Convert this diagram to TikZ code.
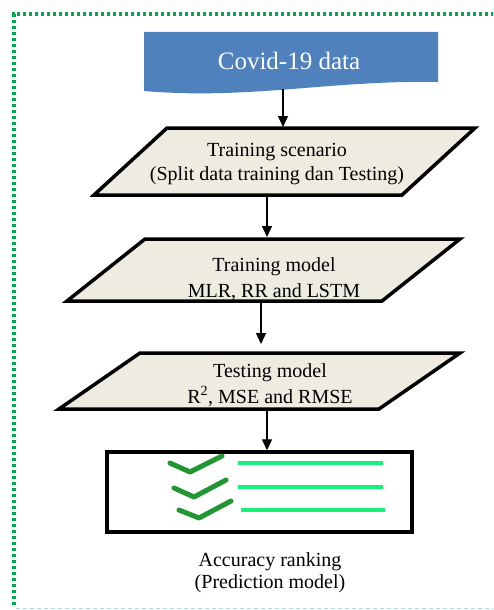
\documentclass[tikz,border=0pt]{standalone}
\usepackage{fontspec}
\setmainfont{Liberation Serif}
\usetikzlibrary{arrows.meta}
\definecolor{docblue}{RGB}{79,129,189}
\definecolor{beige}{RGB}{238,236,225}
\definecolor{framegreen}{RGB}{0,168,80}
\definecolor{tickgreen}{RGB}{34,150,50}
\definecolor{bargreen}{RGB}{25,240,120}
\definecolor{lightteal}{RGB}{170,222,210}
\begin{document}
\begin{tikzpicture}[x=1pt,y=-1pt,
  iobox/.style={draw=black,fill=beige,line width=3.5pt,line join=miter},
  lbl/.style={font=\fontsize{20}{25}\selectfont,align=center,anchor=base,inner sep=0pt},
  arr/.style={line width=1.4pt,-{Triangle[width=10pt,length=11pt]}},
  tickst/.style={draw=tickgreen,line width=5pt,line cap=round,line join=round},
  barst/.style={draw=bargreen,line width=4pt}]
\useasboundingbox[fill=white] (0,0) rectangle (493,610);
% frame
\draw[framegreen,line width=3.4pt,dash pattern=on 3.2pt off 2.8pt] (14,605) -- (14,14) -- (493,14);
\draw[lightteal,line width=0.9pt,dash pattern=on 4pt off 3pt] (16,608) -- (493,608);
% document shape
\fill[docblue] (144,32) -- (438,32) -- (438,82) .. controls (330,80) and (250,100) .. (144,91) -- cycle;
\node[font=\fontsize{25}{28}\selectfont,text=white,anchor=base,inner sep=0pt] (doc) at (289,70) {Covid-19 data};
\coordinate (docb) at (283,89);
% parallelograms
\draw[iobox] (167,128) -- (475,128) -- (402,195) -- (94,195) -- cycle;
\draw[iobox] (145,239) -- (460,239) -- (382,301) -- (67,301) -- cycle;
\draw[iobox] (140,353) -- (460,353) -- (379,409) -- (59,409) -- cycle;
\node[lbl,font=\fontsize{20}{24}\selectfont] (t1) at (277,180) {Training scenario\\(Split data training dan Testing)};
\node[lbl,font=\fontsize{20}{26}\selectfont] (t2) at (274,297) {Training model\\MLR, RR and LSTM};
\node[lbl,font=\fontsize{20}{26}\selectfont] (t3) at (270,403) {Testing model\\R\textsuperscript{2}, MSE and RMSE};
\coordinate (p1t) at (283,127);
\coordinate (p1b) at (267,197);
\coordinate (p2t) at (267,237);
\coordinate (p2b) at (261,303);
\coordinate (p3t) at (261,344);
\coordinate (p3b) at (267,411);
% result box
\node[draw=black,line width=3.5pt,minimum width=305pt,minimum height=80pt,inner sep=0pt] (rank) at (259.5,492) {};
\draw[tickst] (170,463) -- (190,472) -- (222,456);
\draw[tickst] (174,488) -- (194,497) -- (226,480);
\draw[tickst] (179,510) -- (199,518) -- (231,501);
\draw[barst] (238,463) -- (383,463);
\draw[barst] (238,487) -- (383,487);
\draw[barst] (241,510) -- (385,510);
\node[lbl,font=\fontsize{20}{22}\selectfont] (t4) at (270,588) {Accuracy ranking\\(Prediction model)};
% arrows
\draw[arr] (docb) -- (p1t);
\draw[arr] (p1b) -- (p2t);
\draw[arr] (p2b) -- (p3t);
\draw[arr] (p3b) -- (rank.north -| p3b);
\end{tikzpicture}
\end{document}
